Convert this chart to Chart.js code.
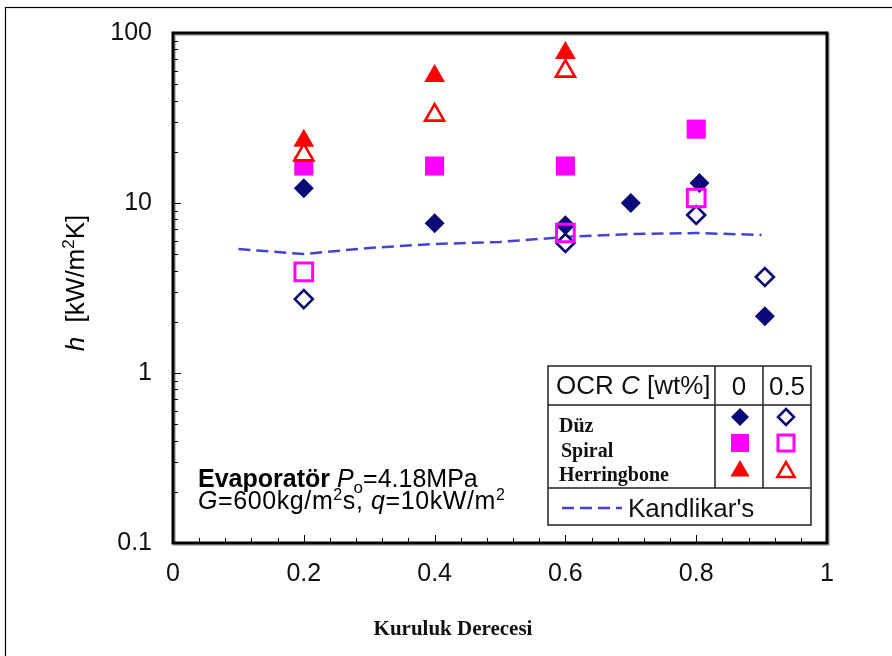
<!DOCTYPE html>
<html>
<head>
<meta charset="utf-8">
<script src="https://cdn.jsdelivr.net/npm/chart.js@4.4.1/dist/chart.umd.min.js"></script>
<style>
html,body{margin:0;padding:0;background:#fff;}
#wrap{width:892px;height:656px;position:relative;}
</style>
</head>
<body>
<div id="wrap"><canvas id="c" width="892" height="656"></canvas></div>
<script>
// ---- data ----
const xTickLabels = [0, 0.2, 0.4, 0.6, 0.8, 1];
const yTickLabels = [0.1, 1, 10, 100];

const xDuz0 = [0.2, 0.4, 0.6, 0.7, 0.805, 0.905];
const hDuz0 = [12.2, 7.6, 7.4, 10.0, 13.1, 2.16];
const xDuz05 = [0.2, 0.6, 0.8, 0.905];
const hDuz05 = [2.72, 5.82, 8.5, 3.67];

const xSpiral0 = [0.2, 0.4, 0.6, 0.8];
const hSpiral0 = [16.5, 16.5, 16.5, 27.2];
const xSpiral05 = [0.2, 0.6, 0.8];
const hSpiral05 = [3.93, 6.66, 10.7];

const xHerr0 = [0.2, 0.4, 0.6];
const hHerr0 = [23.2, 55.9, 76.3];
const xHerr05 = [0.2, 0.4, 0.6];
const hHerr05 = [19.2, 32.9, 59.7];

const xKand = [0.1, 0.2, 0.3, 0.4, 0.5, 0.6, 0.7, 0.8, 0.9];
const hKand = [5.36, 5.01, 5.44, 5.74, 5.90, 6.31, 6.57, 6.66, 6.49];

const NAVY = '#0a0a78', MAG = '#ff00ff', RED = '#ff0000', KBLUE = '#4444d4';
const SANS = '"Liberation Sans", Arial, sans-serif';
const SERIF = '"Liberation Serif", "Times New Roman", serif';

function pts(xs, ys){ return xs.map((x,i)=>({x:x, y:ys[i]})); }

const datasets = [
  {label:"Kandlikar's", data:pts(xKand,hKand), showLine:true, borderColor:KBLUE, borderWidth:2.5,
   borderDash:[12,6], pointRadius:0, fill:false, order:10},
  {label:'Düz 0.5', data:pts(xDuz05,hDuz05), pointStyle:'rectRot', pointRadius:9, borderWidth:2.6,
   borderColor:NAVY, backgroundColor:'#ffffff', showLine:false, order:7},
  {label:'Düz 0', data:pts(xDuz0,hDuz0), pointStyle:'rectRot', pointRadius:10, borderWidth:0,
   borderColor:NAVY, backgroundColor:NAVY, showLine:false, order:6},
  {label:'Spiral 0', data:pts(xSpiral0,hSpiral0), pointStyle:'rect', pointRadius:13.5, borderWidth:0,
   borderColor:MAG, backgroundColor:MAG, showLine:false, order:5},
  {label:'Spiral 0.5', data:pts(xSpiral05,hSpiral05), pointStyle:'rect', pointRadius:12.5, borderWidth:3,
   borderColor:MAG, backgroundColor:'rgba(255,255,255,0)', showLine:false, order:4},
  {label:'Herringbone 0', data:pts(xHerr0,hHerr0), pointStyle:'triangle', pointRadius:12, borderWidth:0,
   borderColor:RED, backgroundColor:RED, showLine:false, order:3},
  {label:'Herringbone 0.5', data:pts(xHerr05,hHerr05), pointStyle:'triangle', pointRadius:11, borderWidth:2.6,
   borderColor:RED, backgroundColor:'#ffffff', showLine:false, order:2}
];

function diamond(ctx,x,y,r,fill,stroke,lw){
  ctx.beginPath(); ctx.moveTo(x,y-r); ctx.lineTo(x+r,y); ctx.lineTo(x,y+r); ctx.lineTo(x-r,y); ctx.closePath();
  if(fill){ctx.fillStyle=fill;ctx.fill();}
  if(stroke){ctx.strokeStyle=stroke;ctx.lineWidth=lw;ctx.stroke();}
}
function square(ctx,x,y,h,fill,stroke,lw){
  ctx.beginPath(); ctx.rect(x-h,y-h,2*h,2*h);
  if(fill){ctx.fillStyle=fill;ctx.fill();}
  if(stroke){ctx.strokeStyle=stroke;ctx.lineWidth=lw;ctx.stroke();}
}
function tri(ctx,x,y,r,fill,stroke,lw){
  ctx.beginPath();
  for(let k=0;k<3;k++){const a=k*2*Math.PI/3; const px=x+Math.sin(a)*r, py=y-Math.cos(a)*r; if(k===0)ctx.moveTo(px,py); else ctx.lineTo(px,py);}
  ctx.closePath();
  if(fill){ctx.fillStyle=fill;ctx.fill();}
  if(stroke){ctx.strokeStyle=stroke;ctx.lineWidth=lw;ctx.stroke();}
}

const decor = {
  id:'decor',
  beforeDraw(chart){
    const ctx = chart.ctx;
    ctx.save();
    ctx.fillStyle='#fff'; ctx.fillRect(0,0,chart.width,chart.height);
    ctx.strokeStyle='#000'; ctx.lineWidth=1.2;
    ctx.strokeRect(5.5,7.5,chart.width+10,chart.height+10);
    ctx.restore();
  },
  afterDraw(chart){
    const ctx = chart.ctx, a = chart.chartArea;
    const xs = chart.scales.x, ys = chart.scales.y;
    ctx.save();
    // inward minor ticks
    ctx.strokeStyle='#000'; ctx.lineWidth=1;
    for(let d=-1; d<2; d++){
      for(let m=1; m<10; m++){
        const v = m*Math.pow(10,d);
        const py = Math.round(ys.getPixelForValue(v))+0.5;
        const len = m===1?8:5;
        ctx.beginPath(); ctx.moveTo(a.left, py); ctx.lineTo(a.left+len, py); ctx.stroke();
      }
    }
    for(let i=0;i<=25;i++){
      const v=i*0.04;
      const px=Math.round(xs.getPixelForValue(v))+0.5;
      const len = (i%5===0)?8:5;
      ctx.beginPath(); ctx.moveTo(px,a.bottom); ctx.lineTo(px,a.bottom-len); ctx.stroke();
    }
    // frame
    ctx.strokeStyle='rgba(0,0,0,0.25)'; ctx.lineWidth=3;
    ctx.strokeRect(a.left+1.5,a.top+1.5,a.right-a.left,a.bottom-a.top);
    ctx.strokeStyle='#000'; ctx.lineWidth=3;
    ctx.strokeRect(a.left,a.top,a.right-a.left,a.bottom-a.top);

    // y axis title: h [kW/m²K]
    ctx.save();
    ctx.translate(75, 283);
    ctx.rotate(-Math.PI/2);
    ctx.fillStyle='#000'; ctx.textBaseline='alphabetic';
    const fBig = '26px '+SANS, fIt='italic 26px '+SANS, fSup='17px '+SANS;
    const parts=[[fIt,'h',0],[fBig,'  [kW/m',0],[fSup,'2',-10],[fBig,'K]',0]];
    let tot=0; parts.forEach(p=>{ctx.font=p[0]; tot+=ctx.measureText(p[1]).width;});
    let cx=-tot/2;
    parts.forEach(p=>{ctx.font=p[0]; ctx.fillText(p[1],cx,9+p[2]); cx+=ctx.measureText(p[1]).width;});
    ctx.restore();

    // x axis title
    ctx.fillStyle='#111'; ctx.textAlign='center'; ctx.textBaseline='alphabetic';
    ctx.font='bold 21px '+SERIF;
    ctx.fillText('Kuruluk Derecesi',453,635);
    ctx.textAlign='left';

    // annotation
    ctx.fillStyle='#000';
    let x=198, y=487;
    const seg=(font,t,dy)=>{ctx.font=font; ctx.fillText(t,x,y+(dy||0)); x+=ctx.measureText(t).width;};
    seg('bold 25px '+SANS,'Evaporatör ');
    seg('italic 25px '+SANS,'P');
    seg('17px '+SANS,'o',6);
    seg('25px '+SANS,'=4.18MPa');
    x=198; y=509;
    ctx.letterSpacing='0.6px';
    seg('italic 25px '+SANS,'G');
    seg('25px '+SANS,'=600kg/m');
    seg('16px '+SANS,'2',-9);
    seg('25px '+SANS,'s, ');
    seg('italic 25px '+SANS,'q');
    seg('25px '+SANS,'=10kW/m');
    seg('16px '+SANS,'2',-9);
    ctx.letterSpacing='0px';

    // legend table
    const L=548, R=811, T=366, B=525, H1=405, H2=488, V1=715, V2=763;
    ctx.fillStyle='#fff'; ctx.fillRect(L,T,R-L,B-T);
    ctx.strokeStyle='#222'; ctx.lineWidth=1.5;
    ctx.strokeRect(L,T,R-L,B-T);
    ctx.beginPath();
    ctx.moveTo(L,H1); ctx.lineTo(R,H1);
    ctx.moveTo(L,H2); ctx.lineTo(R,H2);
    ctx.moveTo(V1,T); ctx.lineTo(V1,H2);
    ctx.moveTo(V2,T); ctx.lineTo(V2,H2);
    ctx.stroke();
    ctx.fillStyle='#111';
    x=556; y=394;
    seg('26px '+SANS,'OCR ');
    seg('italic 26px '+SANS,'C');
    seg('26px '+SANS,' [wt%]');
    ctx.textAlign='center';
    ctx.font='26px '+SANS;
    ctx.fillText('0',739,395);
    ctx.fillText('0.5',787,395);
    ctx.textAlign='left';
    ctx.font='bold 20px '+SERIF;
    ctx.fillText('Düz',559,432);
    ctx.fillText('Spiral',561,457);
    ctx.fillText('Herringbone',559,481);
    diamond(ctx,740,417,9,NAVY,null,0);
    diamond(ctx,786,417,8,'#fff',NAVY,2.5);
    square(ctx,740,443,9,MAG,null,0);
    square(ctx,786,443,8,null,MAG,3);
    tri(ctx,740,471,11,RED,null,0);
    tri(ctx,786,472,10,'#fff',RED,2.5);
    ctx.strokeStyle=KBLUE; ctx.lineWidth=2.5; ctx.setLineDash([12,6]);
    ctx.beginPath(); ctx.moveTo(562,508); ctx.lineTo(622,508); ctx.stroke();
    ctx.setLineDash([]);
    ctx.fillStyle='#111'; ctx.font='26px '+SANS;
    ctx.fillText("Kandlikar's",628,517);
    ctx.restore();
  }
};

new Chart(document.getElementById('c'), {
  type:'scatter',
  data:{datasets:datasets},
  plugins:[decor],
  options:{
    responsive:false, animation:false,
    layout:{padding:{left:0, top:33, right:65, bottom:0}},
    plugins:{legend:{display:false}, tooltip:{enabled:false}},
    scales:{
      x:{type:'linear', min:0, max:1,
         afterBuildTicks:(s)=>{s.ticks=xTickLabels.map(v=>({value:v}));},
         ticks:{font:{family:SANS,size:25}, color:'#111', padding:16, maxRotation:0,
                callback:(v)=>String(v)},
         grid:{display:false, drawTicks:false}, border:{display:false},
         afterFit:(s)=>{s.height=113; s.paddingLeft=0; s.paddingRight=0;}},
      y:{type:'logarithmic', min:0.1, max:100,
         afterBuildTicks:(s)=>{s.ticks=yTickLabels.map(v=>({value:v}));},
         ticks:{font:{family:SANS,size:25}, color:'#111', padding:21,
                callback:(v)=>String(v)},
         grid:{display:false, drawTicks:false}, border:{display:false},
         afterFit:(s)=>{s.width=173; s.paddingTop=0; s.paddingBottom=0;}}
    }
  }
});
</script>
</body>
</html>
